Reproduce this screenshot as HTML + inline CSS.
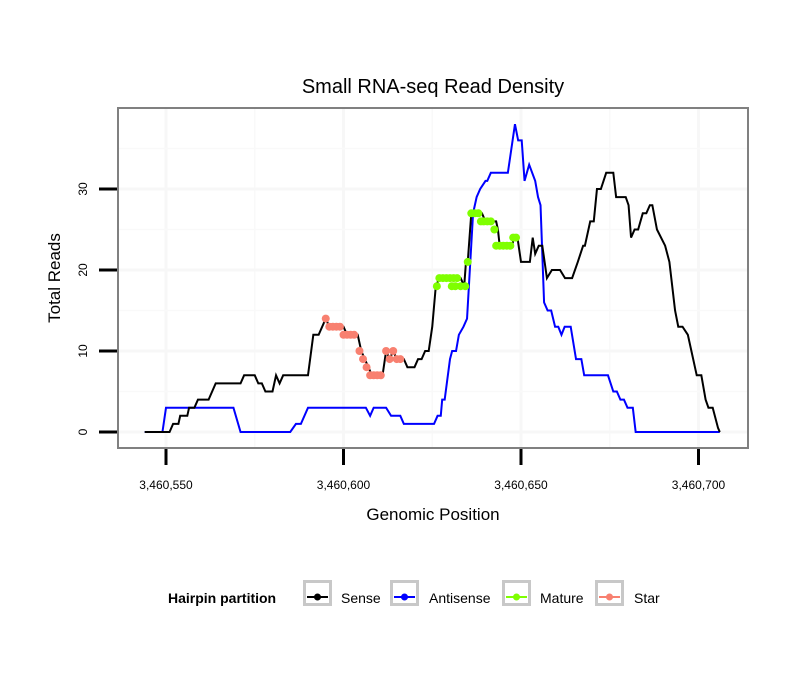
<!DOCTYPE html>
<html><head><meta charset="utf-8"><style>
body{margin:0;background:#fff;font-family:"Liberation Sans",sans-serif}
svg text{font-family:"Liberation Sans",sans-serif}
</style></head><body>
<svg id="chart" width="810" height="690" xmlns="http://www.w3.org/2000/svg">
<rect width="810" height="690" fill="#fff"/>
<text x="433" y="93" font-size="20" text-anchor="middle">Small RNA-seq Read Density</text>
<g id="grid"></g>
<g id="series"></g>
<rect x="118" y="108" width="630" height="340" fill="none" stroke="#808080" stroke-width="2"/>
<g id="axes"></g>
<text x="433" y="520" font-size="17" text-anchor="middle">Genomic Position</text>
<text transform="translate(60,278) rotate(-90)" font-size="17" text-anchor="middle">Total Reads</text>
<g>
<text x="168" y="603" font-size="14" font-weight="bold">Hairpin partition</text>
<g id="legend-items"></g>
</g>
</svg>
<script>
const xTicks=[3460550,3460600,3460650,3460700];
const yTicks=[0,10,20,30];
const sense=[[544,0],[551,0],[552,1],[553.5,1],[554,2],[556,2],[556.5,3],[558,3],[559,4],[562,4],[564,6],[571,6],[572,7],[575,7],[576,6],[577,6],[578,5],[580,5],[581,7],[582,6],[583,7],[590,7],[591.5,12],[593,12],[595,14],[596,13],[600,13],[601,12],[604,12],[605,10],[606,9],[607,8],[608,7],[611,7],[612,10],[613,9],[614,10],[615,9],[617,9],[618,8],[620,8],[621,9],[622,9],[623,10],[624,10],[625,13],[626,18],[627,19],[633,19],[634,18],[634.5,21],[635,21],[636,27],[639,27],[640,26],[643,26],[643.5,25],[644,23],[647.5,23],[648,24],[649,24],[650,21],[652.5,21],[653.3,24],[654,22],[655,23],[656,23],[657.3,19],[658.7,20],[661,20],[662.4,19],[664.4,19],[666,21],[667.5,23],[668,23],[669.5,26],[670.5,26],[671.4,30],[672.5,30],[674,32],[676,32],[676.8,29],[679.5,29],[680.3,28],[681,24],[682,25],[683,25],[684.3,27],[685.3,27],[686.3,28],[687,28],[688.3,25],[690.6,23],[691.8,21],[693.4,15],[694.3,13],[695.5,13],[697,12],[698,10],[699.5,7],[700.8,7],[702,4],[702.8,3],[704,3],[705.5,0.5],[706,0]];
const antisense=[[544,0],[549,0],[550,3],[569,3],[571,0],[585,0],[586.6,1],[588,1],[590,3],[606.3,3],[607.5,2],[608.5,3],[612,3],[613.4,2],[616,2],[617,1],[625.5,1],[626.5,2],[627.4,2],[627.8,4],[628.5,4],[630,9],[630.6,10],[631.7,10],[632.5,12],[633.8,13],[634.8,14],[636.5,27],[637.5,29],[638.5,30],[640,31],[640.5,31],[641.5,32],[646.3,32],[648.3,38],[649.2,36],[650.2,36],[651,31],[652.3,33],[654,31],[654.8,29],[655.5,28],[656.5,16],[657.5,15],[658.5,15],[659.6,13],[660.5,13],[661.4,12],[662.3,13],[664,13],[665.5,9],[667,9],[667.8,7],[674.5,7],[676,5],[677,5],[678,4],[679,4],[680,3],[681.5,3],[682.3,0],[706,0]];
const mature=[[626.3,18],[627,19],[628,19],[629,19],[630,19],[631,19],[632,19],[630.5,18],[631.5,18],[633,18],[634.3,18],[635,21],[636,27],[637,27],[638,27],[638.7,26],[639.5,26],[640.5,26],[641.5,26],[642.5,25],[643,23],[644,23],[645,23],[646,23],[647,23],[647.8,24],[648.6,24]];
const star=[[595,14],[596,13],[597,13],[598,13],[599,13],[600,12],[601,12],[602,12],[603,12],[604.5,10],[605.5,9],[606.5,8],[607.5,7],[608.5,7],[609.5,7],[610.5,7],[612,10],[613,9],[614,10],[615,9],[616,9]];
const NS='http://www.w3.org/2000/svg';
const xs=v=>166+(v-550)*3.55;
const ys=v=>432-v*8.1;
function el(t,a,p){const e=document.createElementNS(NS,t);for(const k in a)e.setAttribute(k,a[k]);p.appendChild(e);return e;}
const grid=document.getElementById('grid'),axes=document.getElementById('axes'),ser=document.getElementById('series');
[575,625,675].forEach(v=>{const l=el('line',{x1:xs(v),x2:xs(v),y1:109,y2:447,stroke:'#f9f9f9','stroke-width':1.5},grid);});
xTicks.forEach(t=>{const v=t-3460000;const l=el('line',{x1:xs(v),x2:xs(v),y1:109,y2:447,stroke:'#f7f7f7',"stroke-width":3},grid);});
[5,15,25,35].forEach(v=>{const l=el('line',{x1:119,x2:747,y1:ys(v),y2:ys(v),stroke:'#f9f9f9','stroke-width':1.5},grid);});
yTicks.forEach(v=>{const l=el('line',{x1:119,x2:747,y1:ys(v),y2:ys(v),stroke:'#f7f7f7','stroke-width':3},grid);});
xTicks.forEach(t=>{const x=xs(t-3460000);
const l=el('line',{x1:x,x2:x,y1:449,y2:465,stroke:'#000','stroke-width':3},axes);
const tx=el('text',{x:x,y:489,'font-size':12,'text-anchor':'middle'},axes);tx.textContent=t.toLocaleString('en-US');});
yTicks.forEach(v=>{const y=ys(v);
const l=el('line',{x1:99,x2:117,y1:y,y2:y,stroke:'#000','stroke-width':3},axes);
const tx=el('text',{transform:`translate(87,${y}) rotate(-90)`,'font-size':12,'text-anchor':'middle'},axes);tx.textContent=v;});
function line(d,c,name){const p=el('polyline',{points:d.map(q=>xs(q[0])+','+ys(q[1])).join(' '),fill:'none',stroke:c,'stroke-width':2},ser);}
line(antisense,'#0000ff','antisense-line');
line(sense,'#000','sense-line');
function pts(d,c,name){d.forEach(q=>{const e=el('circle',{cx:xs(q[0]),cy:ys(q[1]),r:4,fill:c},ser);});}
pts(mature,'#7fff00','mature-point');
pts(star,'#f88070','star-point');
const leg=document.getElementById('legend-items');
[['Sense','#000',303,341],['Antisense','#0000ff',390,429],['Mature','#7fff00',502,540],['Star','#f88070',595,634]].forEach(L=>{
const g=el('g',{},leg);
el('rect',{x:L[2]+1.5,y:581.5,width:26,height:23,fill:'#fff',stroke:'#c8c8c8','stroke-width':3},g);
el('line',{x1:L[2]+4,x2:L[2]+25,y1:597,y2:597,stroke:L[1],'stroke-width':2},g);
el('circle',{cx:L[2]+14.5,cy:597,r:3.5,fill:L[1]},g);
const t=el('text',{x:L[3],y:603,'font-size':14},g);t.textContent=L[0];});
</script>
</body></html>
